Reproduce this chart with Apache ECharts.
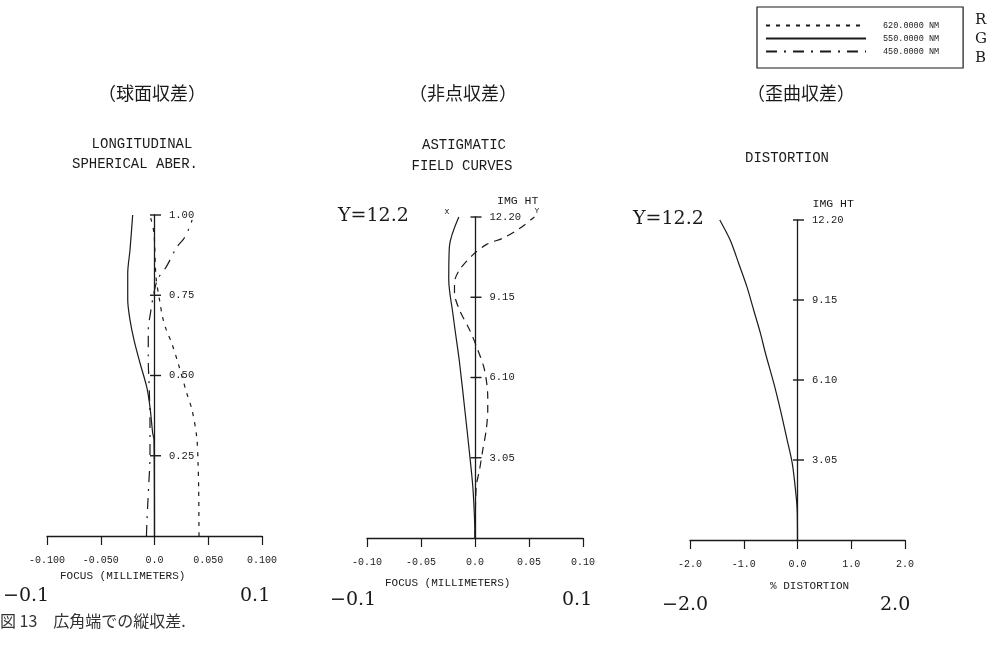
<!DOCTYPE html>
<html>
<head>
<meta charset="utf-8">
<script src="https://cdn.jsdelivr.net/npm/echarts@6/dist/echarts.min.js"></script>
<style>
html,body{margin:0;padding:0;background:#fff;}
#chart{width:992px;height:647px;}
</style>
</head>
<body>
<div id="chart"></div>
<script>
// ---------- DATA ----------
// Plot 1: longitudinal spherical aberration (relative pupil height vs focus, mm)
const sph620Height = [0, 0.143, 0.227, 0.308, 0.393, 0.445, 0.539, 0.601, 0.642, 0.682, 0.729, 0.807, 0.944, 0.99];
const sph620Focus  = [0.0414, 0.0411, 0.0405, 0.0393, 0.0349, 0.0300, 0.0219, 0.0160, 0.011, 0.0075, 0.005, 0.0014, -0.0005, -0.0035];
const sph550Height = [0, 0.30, 0.321, 0.402, 0.464, 0.539, 0.611, 0.673, 0.735, 0.819, 0.891, 1.0];
const sph550Focus  = [0, -0.0005, -0.0017, -0.0042, -0.0072, -0.0135, -0.0191, -0.0228, -0.0249, -0.0249, -0.0228, -0.0203];
const sph450Height = [0, 0.05, 0.15, 0.25, 0.35, 0.45, 0.55, 0.64, 0.70, 0.75, 0.80, 0.84, 0.90, 0.925, 0.957, 0.985];
const sph450Focus  = [-0.0075, -0.007, -0.0055, -0.0042, -0.0042, -0.0048, -0.0058, -0.0058, -0.0035, -0.001, 0.003, 0.0112, 0.0207, 0.027, 0.032, 0.035];

// Plot 2: astigmatic field curves (image height vs focus, mm)
const astXHeight = [0, 0.80, 1.94, 3.23, 4.75, 6.66, 7.80, 8.56, 9.81, 11.08, 12.2];
const astXFocus  = [0, -0.0005, -0.002, -0.0051, -0.0091, -0.0143, -0.0181, -0.0206, -0.0243, -0.0237, -0.015];
const astYHeight = [0, 1.94, 2.59, 3.35, 4.11, 4.87, 5.36, 6.39, 7.15, 7.91, 8.67, 9.32, 9.70, 10.19, 10.76, 11.15, 11.4, 11.64, 11.9, 12.2];
const astYFocus  = [0, 0.0011, 0.0042, 0.0072, 0.0104, 0.0118, 0.0118, 0.0088, 0.0026, -0.005, -0.0144, -0.019, -0.019, -0.0144, -0.002, 0.0104, 0.026, 0.0366, 0.0458, 0.055];

// Plot 3: distortion (image height vs % distortion)
const distHeight  = [0, 1.14, 1.90, 2.93, 3.80, 4.94, 5.97, 7.11, 7.87, 8.75, 9.62, 10.53, 11.41, 12.2];
const distPercent = [0, -0.006, -0.037, -0.098, -0.191, -0.316, -0.440, -0.595, -0.688, -0.813, -0.936, -1.092, -1.247, -1.446];

// Tick values and labels
const sphYTicks = [0.25, 0.50, 0.75, 1.00];
const sphYLabels = ['0.25', '0.50', '0.75', '1.00'];
const sphXLabels = ['-0.100', '-0.050', '0.0', '0.050', '0.100'];
const imgYTicks = [3.05, 6.10, 9.15, 12.20];
const imgYLabels = ['3.05', '6.10', '9.15', '12.20'];
const astXLabels = ['-0.10', '-0.05', '0.0', '0.05', '0.10'];
const distXLabels = ['-2.0', '-1.0', '0.0', '1.0', '2.0'];
const legendNames = ['620.0000 NM', '550.0000 NM', '450.0000 NM'];

// ---------- CHART ----------
const zip = (xs, ys) => xs.map((x, i) => [x, ys[i]]);
const INK = '#1a1a1a';
const MONO = "'Liberation Mono', 'DejaVu Sans Mono', monospace";
const SERIF = "'DejaVu Serif', serif";
const CJK = "'Noto Sans CJK JP', sans-serif";

const grids = [
  {left: 47, top: 215, width: 215, height: 321},
  {left: 367, top: 217, width: 216, height: 321},
  {left: 690, top: 220, width: 215, height: 320}
];

function xAxisOf(idx, min, max, interval, labels) {
  return {
    type: 'value', gridIndex: idx, min, max, interval,
    axisLine: {show: true, onZero: true, lineStyle: {color: INK, width: 1.3}},
    axisTick: {show: true, length: 9, lineStyle: {color: INK, width: 1.2}},
    axisLabel: {margin: 19, fontFamily: MONO, fontSize: 10, color: INK,
      formatter: (v, i) => labels[i]},
    splitLine: {show: false}
  };
}
function yAxisOf(idx, max, interval, name, namePad) {
  return {
    type: 'value', gridIndex: idx, min: 0, max, interval,
    axisLine: {show: true, onZero: true, lineStyle: {color: INK, width: 1.3}},
    axisTick: {show: false},
    axisLabel: {show: false},
    splitLine: {show: false},
    name: name || '',
    nameLocation: 'end',
    nameGap: 10,
    nameTextStyle: {fontFamily: MONO, fontSize: 11.5, color: INK, align: 'left', padding: [0, 0, 0, namePad || 0]}
  };
}
function lineSeries(name, xi, data, dash, width) {
  return {
    name, type: 'line', xAxisIndex: xi, yAxisIndex: xi, data,
    symbol: 'none', smooth: 0.3, clip: false, silent: true,
    lineStyle: {color: INK, width: width || 1.2, type: dash || 'solid'},
    itemStyle: {color: INK}
  };
}
function tickSeries(xi, ticks, labels) {
  return {
    type: 'scatter', xAxisIndex: xi, yAxisIndex: xi, clip: false, silent: true,
    data: ticks.map(t => [0, t]),
    symbol: 'rect', symbolSize: [11, 1.4], symbolOffset: [1, 0],
    itemStyle: {color: INK, opacity: 1},
    label: {show: true, position: 'right', distance: 8, fontFamily: MONO, fontSize: 10.5, color: INK, opacity: 1,
      formatter: p => labels[p.dataIndex]}
  };
}

const DOT = [4, 6];
const DASHDOT = [11, 7, 2, 7];
const DASH = [8, 6];

function txt(text, x, y, font, size, align, fill) {
  return {
    type: 'text', x, y, silent: true,
    style: {text, fontFamily: font, fontSize: size, fill: fill || INK, align: align || 'left', verticalAlign: 'middle'}
  };
}

const option = {
  backgroundColor: '#fff',
  animation: false,
  grid: grids,
  xAxis: [
    xAxisOf(0, -0.1, 0.1, 0.05, sphXLabels),
    xAxisOf(1, -0.1, 0.1, 0.05, astXLabels),
    xAxisOf(2, -2, 2, 1, distXLabels)
  ],
  yAxis: [
    yAxisOf(0, 1, 0.25),
    yAxisOf(1, 12.2, 3.05, 'IMG HT', 22),
    yAxisOf(2, 12.2, 3.05, 'IMG HT', 15)
  ],
  legend: {
    show: true, selectedMode: false, orient: 'vertical',
    left: 757, top: 7,
    data: legendNames,
    itemWidth: 100, itemHeight: 10, itemGap: 4,
    padding: [14, 24, 12, 8],
    borderColor: INK, borderWidth: 1.2,
    itemStyle: {color: 'rgba(0,0,0,0)', opacity: 0, borderWidth: 0},
    textStyle: {fontFamily: MONO, fontSize: 8.5, color: INK, padding: [0, 0, 0, 12]}
  },
  series: [
    lineSeries('620.0000 NM', 0, zip(sph620Focus, sph620Height), DOT),
    lineSeries('550.0000 NM', 0, zip(sph550Focus, sph550Height), 'solid'),
    lineSeries('450.0000 NM', 0, zip(sph450Focus, sph450Height), DASHDOT),
    tickSeries(0, sphYTicks, sphYLabels),
    lineSeries('X', 1, zip(astXFocus, astXHeight), 'solid'),
    lineSeries('Y', 1, zip(astYFocus, astYHeight), DASH),
    tickSeries(1, imgYTicks, imgYLabels),
    lineSeries('Distortion', 2, zip(distPercent, distHeight), 'solid'),
    tickSeries(2, imgYTicks, imgYLabels)
  ],
  graphic: [
    txt('（球面収差）', 152, 93, CJK, 18, 'center'),
    txt('（非点収差）', 463, 93, CJK, 18, 'center'),
    txt('（歪曲収差）', 801, 93, CJK, 18, 'center'),
    txt('LONGITUDINAL', 142, 144, MONO, 14, 'center'),
    txt('SPHERICAL ABER.', 135, 164, MONO, 14, 'center'),
    txt('ASTIGMATIC', 464, 145, MONO, 14, 'center'),
    txt('FIELD CURVES', 462, 166, MONO, 14, 'center'),
    txt('DISTORTION', 787, 158, MONO, 14, 'center'),
    txt('X', 447, 212, MONO, 8, 'center'),
    txt('Y', 537, 211, MONO, 8, 'center'),
    txt('Y=12.2', 338, 216, SERIF, 19, 'left'),
    txt('Y=12.2', 633, 219, SERIF, 19, 'left'),
    txt('FOCUS (MILLIMETERS)', 60, 576, MONO, 11, 'left'),
    txt('FOCUS (MILLIMETERS)', 385, 583, MONO, 11, 'left'),
    txt('% DISTORTION', 770, 586, MONO, 11, 'left'),
    txt('−0.1', 3, 596, SERIF, 19, 'left'),
    txt('0.1', 240, 596, SERIF, 19, 'left'),
    txt('−0.1', 330, 600, SERIF, 19, 'left'),
    txt('0.1', 562, 600, SERIF, 19, 'left'),
    txt('−2.0', 662, 605, SERIF, 19, 'left'),
    txt('2.0', 880, 605, SERIF, 19, 'left'),
    txt('図 13　広角端での縦収差.', 0, 621, CJK, 16, 'left', '#333'),
    txt('R', 975, 20, SERIF, 15, 'left'),
    txt('G', 975, 39, SERIF, 15, 'left'),
    txt('B', 975, 58, SERIF, 15, 'left')
  ]
};

const chart = echarts.init(document.getElementById('chart'), null, {renderer: 'canvas'});
chart.setOption(option);
</script>
</body>
</html>
